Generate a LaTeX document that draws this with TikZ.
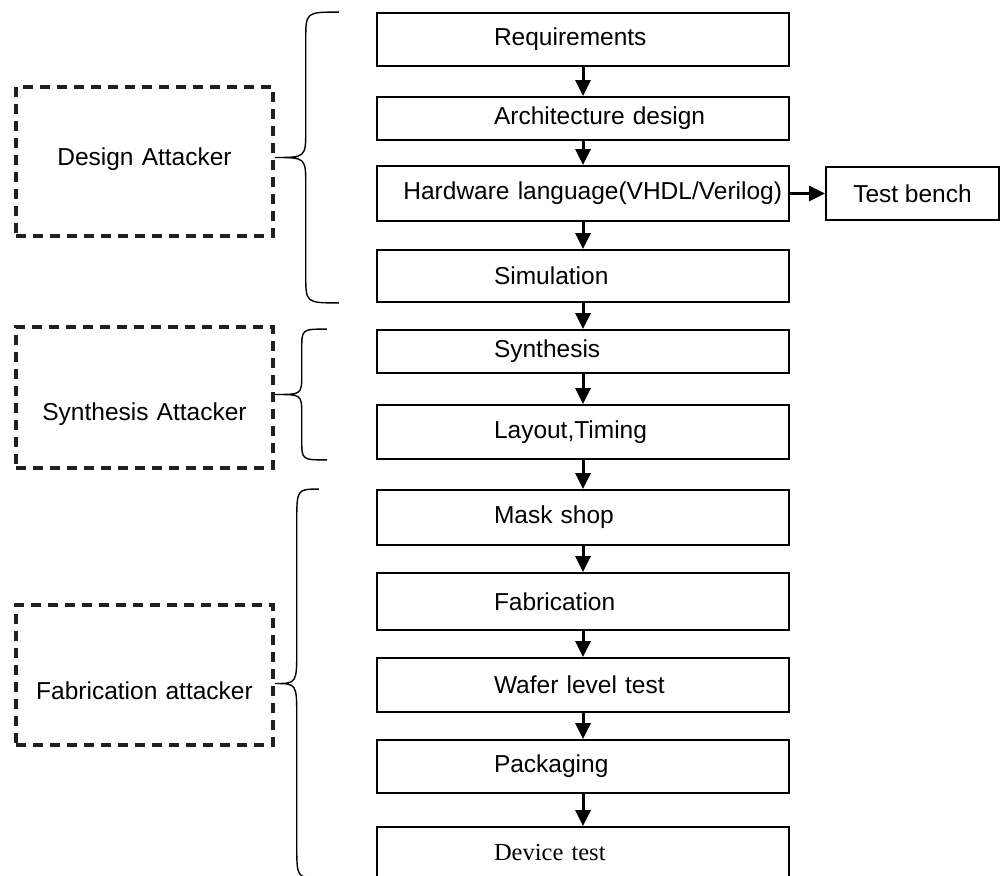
\documentclass[tikz,border=0pt]{standalone}
\usepackage{fontspec}
\setmainfont{Liberation Sans}[Scale=2.45]
\newfontfamily\devfont{Liberation Serif}[Scale=2.45]
\usetikzlibrary{arrows.meta, calc}
\definecolor{atkline}{HTML}{231F20}

% curly brace from an attacker box to a run of stages
% #4 offset of the stem, #5 offset of the ends, #6 size of the bends
\newcommand{\attbrace}[6]{%
  \draw[brace] let \p1=(#1.east), \p2=(#2.north), \p3=(#3.south),
      \p4=($(#2.north)!.5!(#3.south)$) in
    (\x1+#5,\y2) .. controls (\x1+#4,\y2) .. (\x1+#4,\y2-#6)
    -- (\x1+#4,\y4+#6) .. controls (\x1+#4,\y4) .. (\x1,\y4)
    .. controls (\x1+#4,\y4) .. (\x1+#4,\y4-#6)
    -- (\x1+#4,\y3+#6) .. controls (\x1+#4,\y3) .. (\x1+#5,\y3);}

\begin{document}
\begin{tikzpicture}[x=1pt, y=-1pt,
    stage/.style={draw, line width=1.8pt, minimum width=412pt, minimum height=#1,
      text width=398pt, inner xsep=7pt, inner ysep=0pt, align=left},
    stage/.default=53pt,
    lead/.style={execute at begin node={\hspace*{110pt}}},
    attacker/.style 2 args={draw=atkline, line width=3.5pt, dash pattern=on 10pt off 7pt,
      text width=257pt, align=center, inner sep=0pt, text height=#1, text depth=#2,
      anchor=north},
    flow/.style={-{Triangle[length=16pt, width=15pt]}, line width=3pt},
    brace/.style={line width=1.4pt}]
  \useasboundingbox (0,0) rectangle (1000,875);
  \clip (0,0) rectangle (1000,875);

  % design flow
  \node[stage=53pt, lead] (req) at (583,39.5) {Requirements};
  \node[stage=43pt, lead] (arch) at (583,118.5) {Architecture design};
  \node[stage=55pt, align=right] (hdl) at (583,193.5) {Hardware language(VHDL/Verilog)};
  \node[stage=52pt, lead] (sim) at (583,276) {Simulation};
  \node[stage=43pt, lead] (synth) at (583,351.5) {Synthesis};
  \node[stage=54pt, lead] (layout) at (583,432) {Layout,Timing};
  \node[stage=55pt, lead] (mask) at (583,517.5) {Mask shop};
  \node[stage=57pt, lead] (fab) at (583,601.5) {Fabrication};
  \node[stage=54pt, lead] (wafer) at (583,685) {Wafer level test};
  \node[stage=53pt, lead] (pack) at (583,766.5) {Packaging};
  \node[stage=50pt, lead, font=\devfont] (dev) at (583,852) {Device test};
  \node[draw, line width=1.8pt, minimum width=173pt, minimum height=53pt, inner sep=0pt]
    (bench) at (912.5,193.5) {Test bench};

  \foreach \a/\b in {req/arch, arch/hdl, hdl/sim, sim/synth, synth/layout,
                     layout/mask, mask/fab, fab/wafer, wafer/pack, pack/dev}
    \draw[flow] (\a) -- (\b);
  \draw[flow] (hdl) -- (bench);

  % attackers
  \node[attacker={78.8pt}{70.2pt}] (designatk) at (144.5,85) {Design Attacker};
  \node[attacker={93.8pt}{47.2pt}] (synthatk) at (144.5,325) {Synthesis Attacker};
  \node[attacker={94.8pt}{45.2pt}] (fabatk) at (144.5,603) {Fabrication attacker};

  \attbrace{designatk}{req}{sim}{31}{64}{28}
  \attbrace{synthatk}{synth}{layout}{27}{52}{20}
  \attbrace{fabatk}{mask}{dev}{22}{44}{34}
\end{tikzpicture}
\end{document}
